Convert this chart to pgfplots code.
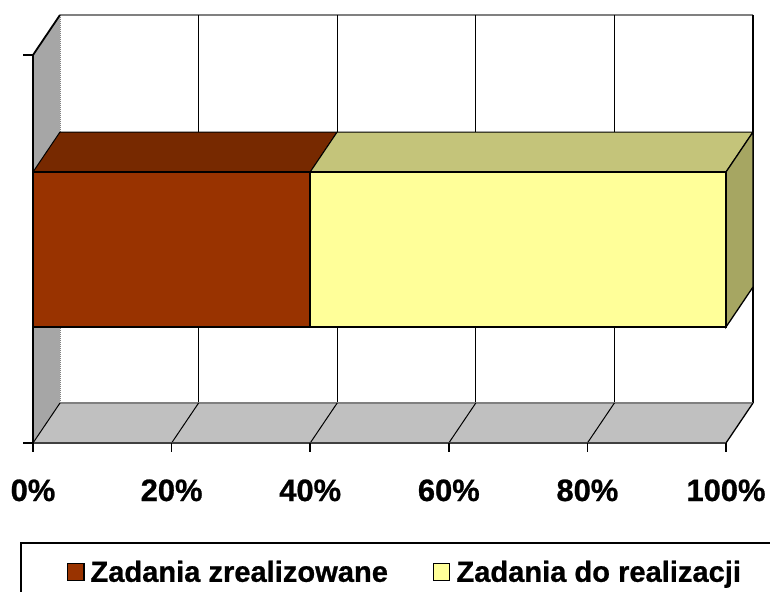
\documentclass[border=0pt]{standalone}
\usepackage{pgfplots}
\pgfplotsset{compat=1.18}
\usepackage{fontspec}
\setmainfont{Liberation Sans}
\newfontfamily\heavy{Liberation Sans Bold}[FakeBold=0.8]
\definecolor{brownF}{RGB}{153,51,0}
\definecolor{brownT}{RGB}{119,41,0}
\definecolor{yelF}{RGB}{255,255,153}
\definecolor{yelT}{RGB}{196,196,122}
\definecolor{yelS}{RGB}{166,166,98}
\definecolor{wallL}{RGB}{166,166,166}
\definecolor{floorC}{RGB}{192,192,192}
\definecolor{edgeG}{RGB}{128,128,128}
\begin{document}
\begin{tikzpicture}
\begin{axis}[
  name=ax,
  scale only axis, width=770bp, height=592bp,
  xmin=-4.762, xmax=106.35, ymin=0, ymax=592, y dir=reverse,
  hide axis, clip=true,
  legend columns=2,
  legend style={at={(axis cs:4.906,572)}, anchor=west, draw=none, fill=none,
    inner sep=0pt, outer sep=0pt, font=\fontsize{29.2}{33}\heavy,
    nodes={inner sep=0pt}, column sep=6bp,
    /tikz/every even column/.append style={column sep=45bp}},
  legend image code/.code={\draw[#1, line width=1.5bp] (0bp,-8.5bp) rectangle (16bp,8.5bp);},
]
% left wall
\addplot[forget plot, fill=wallL, draw=none] coordinates {(0,443)(0,55)(3.896,15)(3.896,403)} --cycle;
\addplot[forget plot, edgeG, line width=1.5bp] coordinates {(3.896,15)(103.896,15)};
\addplot[forget plot, edgeG, densely dotted, line width=1bp] coordinates {(3.896,15)(3.896,403)};
% back wall gridlines
\addplot[forget plot, black, line width=1bp] coordinates {(23.896,15)(23.896,403)};
\addplot[forget plot, black, line width=1bp] coordinates {(43.896,15)(43.896,403)};
\addplot[forget plot, black, line width=1bp] coordinates {(63.896,15)(63.896,403)};
\addplot[forget plot, black, line width=1bp] coordinates {(83.896,15)(83.896,403)};
\addplot[forget plot, black, line width=1.3bp] coordinates {(103.896,15)(103.896,403)};
% floor
\addplot[forget plot, fill=floorC, draw=none] coordinates {(0,443)(100,443)(103.896,403)(3.896,403)} --cycle;
\addplot[forget plot, edgeG, line width=1.3bp] coordinates {(3.896,403)(103.896,403)};
\addplot[forget plot, black, line width=1bp] coordinates {(0,443)(3.896,403)};
\addplot[forget plot, black, line width=1bp] coordinates {(20,443)(23.896,403)};
\addplot[forget plot, black, line width=1bp] coordinates {(40,443)(43.896,403)};
\addplot[forget plot, black, line width=1bp] coordinates {(60,443)(63.896,403)};
\addplot[forget plot, black, line width=1bp] coordinates {(80,443)(83.896,403)};
\addplot[forget plot, black, line width=1.3bp] coordinates {(100,443)(103.896,403)};
\addplot[forget plot, black!75, line width=1.8bp] coordinates {(0,443)(100,443)};
% left wall edges
\addplot[forget plot, black, line width=1.8bp] coordinates {(0,443)(0,55)(3.896,15)};
% ticks
\addplot[forget plot, black, line width=1.5bp] coordinates {(-1.443,55)(0,55)};
\addplot[forget plot, black, line width=1.5bp] coordinates {(-1.443,443)(0,443)};
\addplot[forget plot, black, line width=1.5bp] coordinates {(0,443)(0,452)};
\addplot[forget plot, black, line width=1.5bp] coordinates {(20,443)(20,452)};
\addplot[forget plot, black, line width=1.5bp] coordinates {(40,443)(40,452)};
\addplot[forget plot, black, line width=1.5bp] coordinates {(60,443)(60,452)};
\addplot[forget plot, black, line width=1.5bp] coordinates {(80,443)(80,452)};
\addplot[forget plot, black, line width=1.5bp] coordinates {(100,443)(100,452)};
% bar: Zadania zrealizowane 40, Zadania do realizacji 60
\addplot[forget plot, fill=brownT, draw=black, line width=1bp] coordinates {(0,172)(40,172)(43.896,132)(3.896,132)} --cycle;
\addplot[forget plot, fill=yelT, draw=black, line width=1bp] coordinates {(40,172)(100,172)(103.896,132)(43.896,132)} --cycle;
\addplot[forget plot, fill=yelS, draw=black, line width=1.3bp] coordinates {(100,172)(103.896,132)(103.896,287)(100,327)} --cycle;
\addplot[forget plot, fill=brownF, draw=black, line width=1.6bp] coordinates {(0,172)(40,172)(40,327)(0,327)} --cycle;
\addplot[forget plot, fill=yelF, draw=black, line width=1.6bp] coordinates {(40,172)(100,172)(100,327)(40,327)} --cycle;
% legend frame
\addplot[forget plot, black, line width=1.5bp] coordinates {(-1.732,592)(-1.732,543)(106.35,543)};
\addlegendimage{fill=brownF, draw=black}
\addlegendentry{Zadania zrealizowane}
\addlegendimage{fill=yelF, draw=black}
\addlegendentry{Zadania do realizacji}
% tick labels
\node[font=\fontsize{31}{36}\heavy, anchor=base] at (axis cs:0,501) {0\%};
\node[font=\fontsize{31}{36}\heavy, anchor=base] at (axis cs:20,501) {20\%};
\node[font=\fontsize{31}{36}\heavy, anchor=base] at (axis cs:40,501) {40\%};
\node[font=\fontsize{31}{36}\heavy, anchor=base] at (axis cs:60,501) {60\%};
\node[font=\fontsize{31}{36}\heavy, anchor=base] at (axis cs:80,501) {80\%};
\node[font=\fontsize{31}{36}\heavy, anchor=base] at (axis cs:100,501) {100\%};
\end{axis}
\pgfresetboundingbox
\path (ax.south west) rectangle (ax.north east);
\end{tikzpicture}
\end{document}
